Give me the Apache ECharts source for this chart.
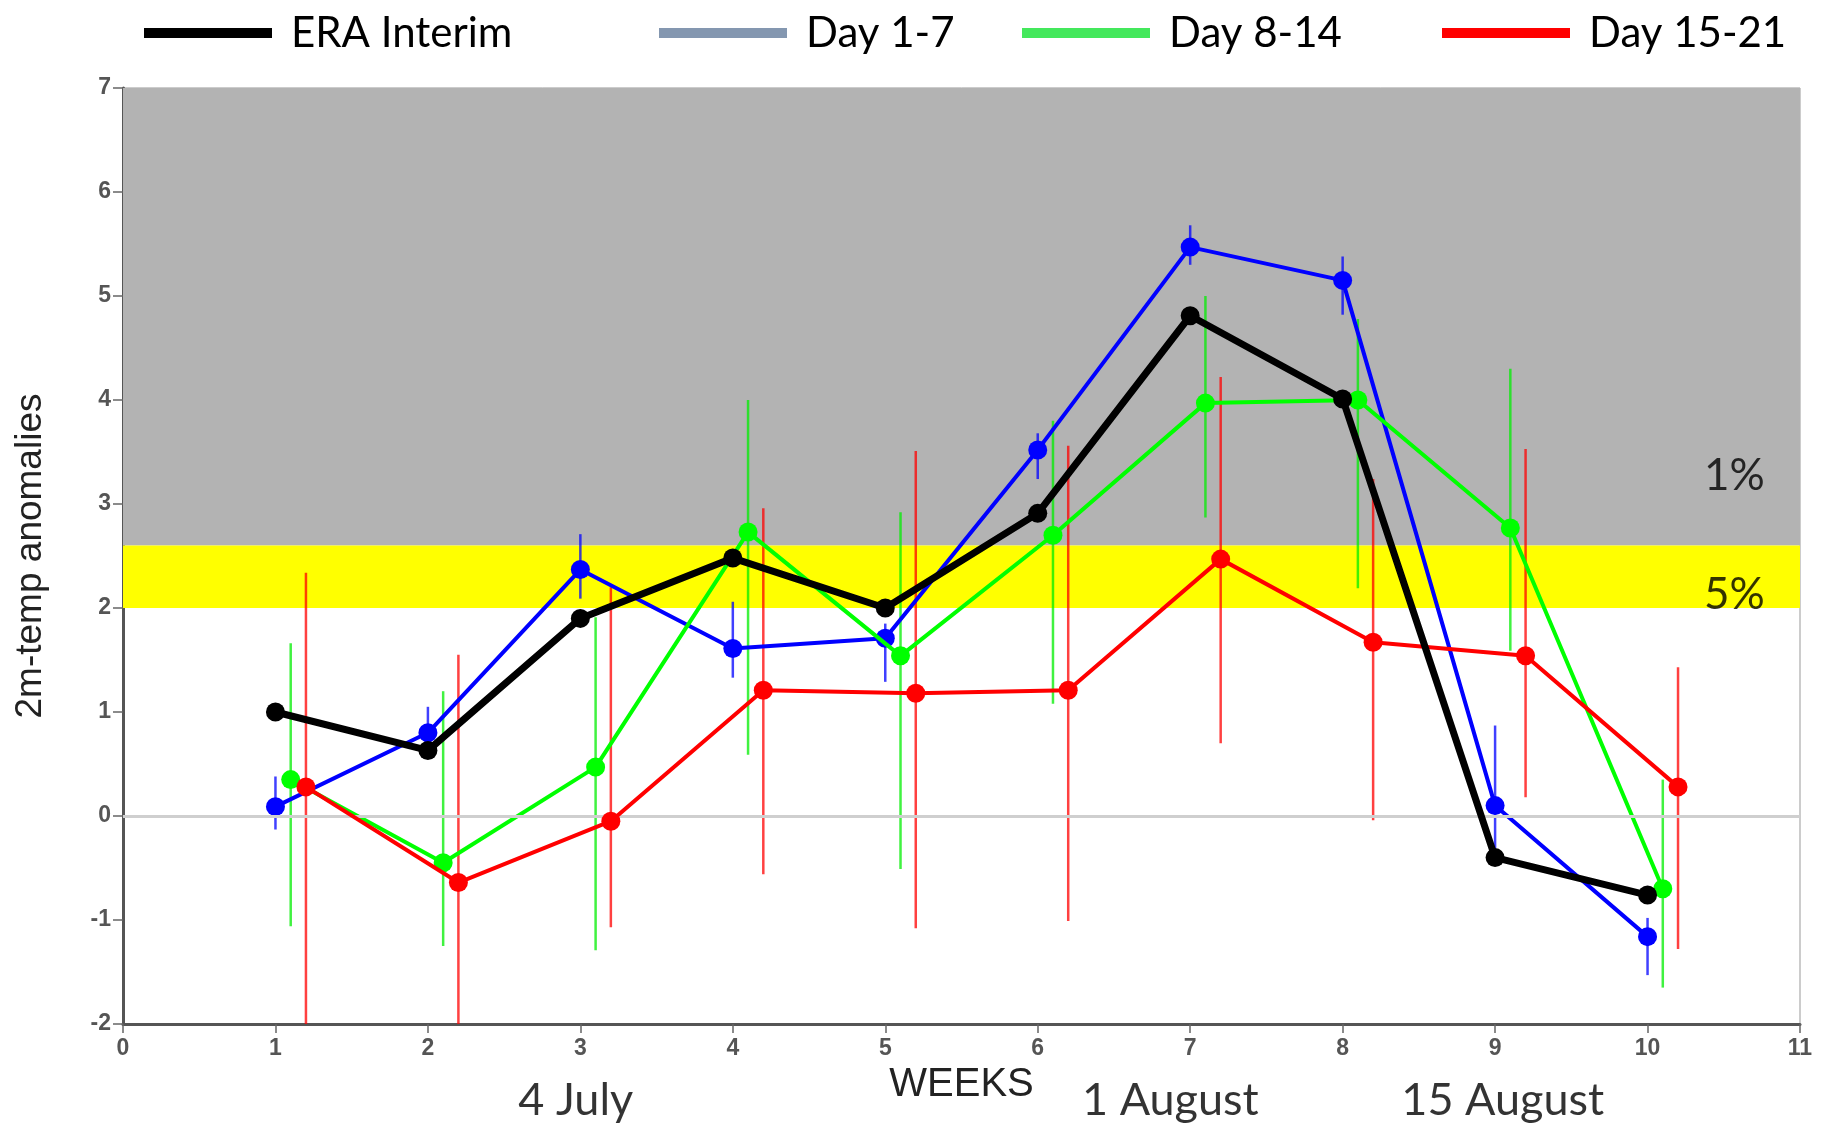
<!DOCTYPE html>
<html>
<head>
<meta charset="utf-8">
<script src="https://cdn.jsdelivr.net/npm/echarts@6/dist/echarts.min.js"></script>
<style>
  html, body { margin: 0; padding: 0; background: #fff; }
  #container { width: 1821px; height: 1125px; }
</style>
</head>
<body>
<div id="container"></div>
<script>
// weeks and offsets of each forecast series
var weeks = [1, 2, 3, 4, 5, 6, 7, 8, 9, 10];
var offsets = { era: 0, day1to7: 0, day8to14: 0.1, day15to21: 0.2 };

// ERA Interim
var eraInterim = [1.0, 0.63, 1.90, 2.48, 2.0, 2.91, 4.81, 4.01, -0.40, -0.76];

// Day 1-7 mean, low and high
var day1to7 = [0.09, 0.80, 2.37, 1.61, 1.71, 3.52, 5.47, 5.15, 0.10, -1.16];
var day1to7Low = [-0.13, 0.68, 2.09, 1.33, 1.29, 3.24, 5.30, 4.82, -0.31, -1.53];
var day1to7High = [0.38, 1.05, 2.71, 2.06, 1.85, 3.68, 5.68, 5.38, 0.87, -0.98];

// Day 8-14
var day8to14 = [0.35, -0.45, 0.47, 2.73, 1.54, 2.70, 3.97, 4.00, 2.77, -0.70];
var day8to14Low = [-1.06, -1.25, -1.29, 0.59, -0.51, 1.08, 2.87, 2.19, 1.59, -1.65];
var day8to14High = [1.66, 1.20, 1.91, 4.00, 2.92, 3.80, 5.00, 4.78, 4.30, 0.35];

// Day 15-21
var day15to21 = [0.28, -0.64, -0.05, 1.21, 1.18, 1.21, 2.47, 1.67, 1.54, 0.28];
var day15to21Low = [-2.0, -2.0, -1.07, -0.56, -1.08, -1.01, 0.70, -0.04, 0.18, -1.28];
var day15to21High = [2.34, 1.55, 2.20, 2.96, 3.51, 3.56, 4.22, 3.24, 3.53, 1.43];

// significance bands
var band5 = [2.0, 2.6];
var band1 = [2.6, 7.0];
var bandLabels = ['1%', '5%'];
var bandLabelPos = [[10.57, 3.27], [10.57, 2.13]];

// dates under the x axis
var dateLabels = ['4 July', '1 August', '15 August'];
var dateWeeks = [2.97, 6.87, 9.05];

function pairs(vals, off) {
    return vals.map(function(v, i) { return [weeks[i] + off, v]; });
}
function bars(low, high, off) {
    return low.map(function(v, i) { return [weeks[i] + off, v, high[i]]; });
}

function errorSeries(name, data, color) {
    return {
        name: name + ' range',
        type: 'custom',
        z: 2,
        clip: true,
        silent: true,
        encode: { x: 0, y: [1, 2] },
        data: data,
        renderItem: function(params, api) {
            var p1 = api.coord([api.value(0), api.value(1)]);
            var p2 = api.coord([api.value(0), api.value(2)]);
            return {
                type: 'line',
                shape: { x1: p1[0], y1: p1[1], x2: p2[0], y2: p2[1] },
                style: { stroke: color, lineWidth: 2.5, opacity: 0.75 }
            };
        }
    };
}

function lineSeries(name, data, color, width, z) {
    return {
        name: name,
        type: 'line',
        z: z,
        data: data,
        symbol: 'circle',
        symbolSize: 19,
        lineStyle: { color: color, width: width },
        itemStyle: { color: color },
        emphasis: { disabled: true }
    };
}

function legendAt(left, name, color) {
    return {
        left: left,
        top: 7,
        selectedMode: false,
        icon: 'rect',
        itemWidth: 128,
        itemHeight: 10,
        textStyle: { fontFamily: 'Lato', fontSize: 42, color: '#000', padding: [0, 0, 0, 14] },
        data: [{ name: name, itemStyle: { color: color }, lineStyle: { color: color } }]
    };
}

var dom = document.getElementById('container');
var myChart = echarts.init(dom);
var option = {
    backgroundColor: '#fff',
    animation: false,
    legend: [
        legendAt(139, 'ERA Interim', '#000000'),
        legendAt(654, 'Day 1-7', '#8497b0'),
        legendAt(1017, 'Day 8-14', '#44e85c'),
        legendAt(1437, 'Day 15-21', '#ff0000')
    ],
    grid: {
        left: 123, right: 21, top: 88, bottom: 101,
        show: true, backgroundColor: '#fff', borderColor: '#999', borderWidth: 1,
        outerBoundsMode: 'none'
    },
    xAxis: {
        type: 'value',
        min: 0, max: 11, interval: 1,
        name: 'WEEKS',
        nameLocation: 'middle',
        nameGap: 40,
        nameTextStyle: { fontFamily: 'Liberation Sans', fontSize: 40, color: '#222' },
        axisLine: { onZero: false, lineStyle: { color: '#555', width: 3 } },
        axisTick: { show: true, length: 9, lineStyle: { color: '#666', width: 1.5 } },
        axisLabel: { fontFamily: 'Liberation Sans', fontWeight: 'bold', fontSize: 23, color: '#555', margin: 13 },
        splitLine: { show: false }
    },
    yAxis: {
        type: 'value',
        min: -2, max: 7, interval: 1,
        name: '2m-temp anomalies',
        nameLocation: 'middle',
        nameGap: 74,
        nameTextStyle: { fontFamily: 'Liberation Sans', fontSize: 37, color: '#222' },
        axisLine: { onZero: false, lineStyle: { color: '#555', width: 3 } },
        axisTick: { show: true, length: 10, lineStyle: { color: '#666', width: 1.5 } },
        axisLabel: { fontFamily: 'Liberation Sans', fontWeight: 'bold', fontSize: 23, color: '#555', margin: 12 },
        splitLine: { show: false }
    },
    series: [
        {
            name: 'bands',
            type: 'line',
            z: 1,
            data: [],
            silent: true,
            markArea: {
                silent: true,
                data: [
                    [{ yAxis: band1[0], itemStyle: { color: '#b3b3b3' } }, { yAxis: band1[1] }],
                    [{ yAxis: band5[0], itemStyle: { color: '#ffff00' } }, { yAxis: band5[1] }]
                ]
            },
            markLine: {
                silent: true,
                symbol: 'none',
                label: { show: false },
                lineStyle: { color: '#cfcfcf', width: 3, type: 'solid' },
                data: [{ yAxis: 0 }]
            }
        },
        errorSeries('Day 1-7', bars(day1to7Low, day1to7High, offsets.day1to7), '#0000ff'),
        errorSeries('Day 8-14', bars(day8to14Low, day8to14High, offsets.day8to14), '#00ee00'),
        errorSeries('Day 15-21', bars(day15to21Low, day15to21High, offsets.day15to21), '#ff0000'),
        lineSeries('Day 1-7', pairs(day1to7, offsets.day1to7), '#0000ff', 4, 3),
        lineSeries('Day 8-14', pairs(day8to14, offsets.day8to14), '#00ff00', 4, 4),
        lineSeries('Day 15-21', pairs(day15to21, offsets.day15to21), '#ff0000', 4, 5),
        lineSeries('ERA Interim', pairs(eraInterim, offsets.era), '#000000', 7, 6),
        {
            name: 'bandText',
            type: 'scatter',
            z: 7,
            silent: true,
            symbolSize: 1,
            itemStyle: { color: 'rgba(0,0,0,0)' },
            data: bandLabelPos.map(function(p, i) { return { value: p, name: bandLabels[i] }; }),
            label: {
                show: true, position: 'inside', formatter: '{b}',
                fontFamily: 'Lato', fontSize: 44, color: '#000'
            }
        },
        {
            name: 'dates',
            type: 'scatter',
            z: 7,
            silent: true,
            clip: false,
            symbolSize: 1,
            itemStyle: { color: 'rgba(0,0,0,0)' },
            data: dateWeeks.map(function(w, i) { return { value: [w, -2], name: dateLabels[i] }; }),
            label: {
                show: true, position: 'inside', formatter: '{b}', offset: [0, 76],
                fontFamily: 'Lato', fontSize: 45, color: '#000'
            }
        }
    ]
};
if (option && typeof option === "object") {
    myChart.setOption(option, true);
}
</script>
</body>
</html>
